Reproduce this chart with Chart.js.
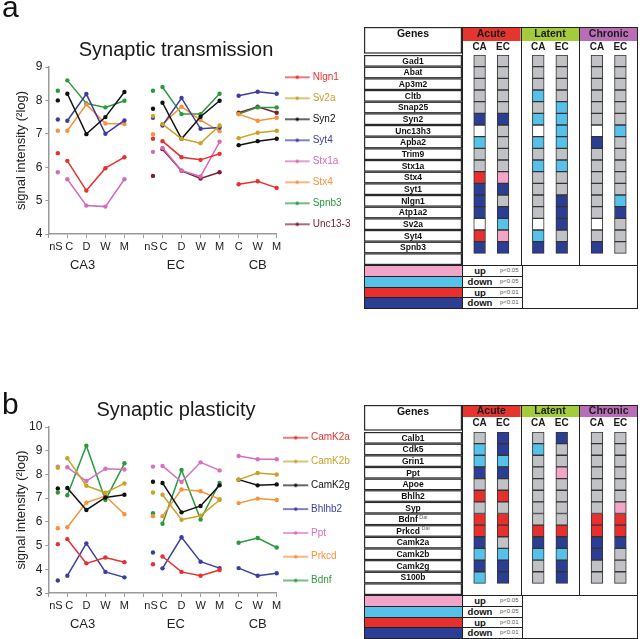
<!DOCTYPE html>
<html>
<head>
<meta charset="utf-8">
<script src="https://cdn.jsdelivr.net/npm/chart.js@4.4.1/dist/chart.umd.min.js"></script>
<style>
  body { margin: 0; background: #fff; width: 640px; height: 639px; position: relative; overflow: hidden; font-family: "Liberation Sans", Arial, sans-serif; }
  .box { position: absolute; }
  .panel { position: absolute; font-size: 30px; line-height: 30px; color: #111; z-index: 2; }
  .key { position: absolute; left: 364px; width: 274px; border-collapse: collapse; table-layout: fixed; }
  .key tr { height: 10.75px; }
  .key td { border: 1px solid #222; padding: 0; height: 10.75px; font-size: 0; line-height: 0; white-space: nowrap; overflow: hidden; box-sizing: border-box; }
  .key td.sw { width: 98px; }
  .key td.lab { width: 60px; }
  .key .w { display: inline-block; vertical-align: top; width: 34px; text-align: center; font: bold 9.5px/9.5px "Liberation Sans", Arial, sans-serif; color: #111; }
  .key .p { display: inline-block; vertical-align: top; padding-left: 3px; font: 6px/9.5px "Liberation Sans", Arial, sans-serif; color: #555; }
</style>
</head>
<body>
<div class="panel" style="left:2px;top:-8px">a</div>
<div class="box" style="left:0;top:0;width:352px;height:274px"><canvas id="lineA"></canvas></div>
<div class="box" style="left:364px;top:27px;width:274px;height:238px"><canvas id="tableA"></canvas></div>
<table class="key" id="keyA" style="top:265px"></table>

<div class="panel" style="left:2px;top:389px">b</div>
<div class="box" style="left:0;top:380px;width:352px;height:253px"><canvas id="lineB"></canvas></div>
<div class="box" style="left:364px;top:405px;width:274px;height:190px"><canvas id="tableB"></canvas></div>
<table class="key" id="keyB" style="top:595px"></table>

<script>
var family = '"Liberation Sans", Arial, sans-serif';
Chart.defaults.font.family = family;
Chart.defaults.color = '#222';

// x layout shared by both line charts: nS dot, then C D W M per region
var pointX = [0.5, 1, 2, 3, 4, 5.5, 6, 7, 8, 9, 10, 11, 12];
var pointGroup = ['nS', 'CA3', 'CA3', 'CA3', 'CA3', 'nS', 'EC', 'EC', 'EC', 'EC', 'CB', 'CB', 'CB'];
var xTickAt   = [0, 0.4, 1, 1.1, 2, 3, 4, 5, 5.4, 6, 6.05, 7, 8, 9, 10, 11, 12];
var xTickText = ['', 'nS', '', 'C', 'D', 'W', 'M', '', 'nS', '', 'C', 'D', 'W', 'M', 'C', 'W', 'M'];
var regionNames = ['CA3', 'EC', 'CB'];
var regionAt = [1.8, 6.7, 11];

// a - synaptic transmission
var transGenes = ['Nlgn1', 'Sv2a', 'Syn2', 'Syt4', 'Stx1a', 'Stx4', 'Spnb3', 'Unc13-3'];
var transColors = ['#e8302f', '#c9a227', '#111111', '#3b3f9c', '#d46ab8', '#f7923a', '#2b9a3f', '#7b2032'];
var nlgn1  = [6.42, 6.19, 5.30, 5.97, 6.30, 6.85, 6.78, 6.30, 6.22, 6.40, 5.49, 5.58, 5.38];
var sv2a   = [null, null, null, null, null, 7.53, 7.29, 6.85, 6.72, 7.25, 6.87, 7.03, 7.09];
var syn2   = [8.00, 8.20, 6.99, 7.50, 8.25, 7.75, 7.93, 6.85, 7.51, 7.99, 6.66, 6.78, 6.85];
var syt4   = [7.43, 7.39, 8.19, 7.00, 7.40, 7.48, 7.25, 8.07, 7.15, 7.19, 8.14, 8.26, 8.20];
var stx1a  = [5.85, 5.64, 4.85, 4.82, 5.64, 6.46, 6.58, 5.90, 5.72, 6.76, null, null, null];
var stx4   = [7.09, 7.09, 7.88, 7.31, 7.29, 6.99, 7.29, 7.81, 7.41, 7.08, 7.59, 7.39, 7.48];
var spnb3  = [8.29, 8.60, 7.91, 7.79, 7.99, 8.29, 8.40, 7.59, 7.59, 8.20, 7.59, 7.79, 7.79];
var unc133 = [null, null, null, null, null, 5.74, 6.54, 5.89, 5.66, 5.85, 7.63, 7.81, 7.63];

// b - synaptic plasticity
var plastGenes = ['CamK2a', 'CamK2b', 'CamK2g', 'Bhlhb2', 'Ppt', 'Prkcd', 'Bdnf'];
var plastColors = ['#e8302f', '#c9a227', '#111111', '#3b3f9c', '#d96fc0', '#f7923a', '#2b9a3f'];
var camk2a = [5.06, 5.27, 4.25, 4.50, 4.30, 4.21, 4.54, 3.89, 3.73, 3.97, null, null, null];
var camk2b = [8.28, 8.68, 7.52, 7.23, 7.62, 7.24, 7.14, 6.09, 6.26, 6.92, 7.78, 8.06, 8.00];
var camk2g = [7.41, 7.43, 6.50, 7.03, 7.14, 7.69, 7.64, 6.40, 6.67, 7.54, 7.78, 7.54, 7.58];
var bhlhb2 = [3.53, 3.73, 5.09, 3.89, 3.66, 4.71, 4.04, 5.35, 4.32, 4.05, 4.05, 3.73, 3.83];
var ppt    = [8.33, 8.30, 7.72, 8.24, 8.21, 8.33, 8.36, 7.68, 8.51, 8.17, 8.78, 8.64, 8.64];
var prkcd  = [5.73, 5.77, 6.81, 7.09, 6.32, 6.24, 6.24, 7.37, 7.29, 6.96, 6.79, 6.98, 6.92];
var bdnf   = [7.24, 7.12, 9.21, 6.92, 8.47, 6.36, 5.92, 8.19, 6.10, 7.64, 5.12, 5.32, 4.92];

// tables: g grey, w white, l down p<0.05, d down p<0.01, p up p<0.05, r up p<0.01
var stageNames = ['Acute', 'Latent', 'Chronic'];
var stageColors = ['#e5352f', '#a2cc3a', '#b96db6'];
var subNames = ['CA', 'EC'];
var tableGenesA = ['Gad1', 'Abat', 'Ap3m2', 'Cltb', 'Snap25', 'Syn2', 'Unc13h3', 'Apba2', 'Trim9',
                   'Stx1a', 'Stx4', 'Syt1', 'Nlgn1', 'Atp1a2', 'Sv2a', 'Syt4', 'Spnb3'];
var tableCellsA = ['gggggg', 'gggggg', 'gggggg', 'gglggg', 'ggglgg', 'ddllgg', 'wgwlwl', 'lglldg', 'gggggg',
                   'ggllgg', 'rpgggg', 'ddgggg', 'dggdgl', 'ddgdgd', 'wlwdwg', 'rplggg', 'dddddg'];
var tableGenesB = ['Calb1', 'Cdk5', 'Grin1', 'Ppt', 'Apoe', 'Bhlh2', 'Syp', 'Bdnf', 'Prkcd',
                   'Camk2a', 'Camk2b', 'Camk2g', 'S100b'];
var tableCellsB = ['gdgdgg', 'ldlggg', 'llgggg', 'ddgpgg', 'gggggg', 'rrgggg', 'gggggp', 'rrggrr', 'rrrrrr',
                   'dgdddd', 'lllldg', 'ddgdgg', 'ldgdgg'];
var geneNotes = { Bdnf: 'Dai', Prkcd: 'Dai' };

var keyColors = ['#f2a5c6', '#56c2ea', '#e7302e', '#2c3e93'];
var keyWords = ['up', 'down', 'up', 'down'];
var keyP = ['p<0.05', 'p<0.05', 'p<0.01', 'p<0.01'];

var cellColor = { g: '#c1c2c6', w: '#ffffff', l: '#56c2ea', d: '#2c3e93', p: '#f2a5c6', r: '#e7302e' };
var subX = [0.30, 0.70];
var cellHalf = 0.1;

function joined(a, b) {
    return pointGroup[a] === pointGroup[b] && pointGroup[a] !== 'nS';
}

// small line with a dot for the legend
function legendMark(color, w) {
    var c = document.createElement('canvas');
    c.width = w; c.height = 6;
    var g = c.getContext('2d');
    g.strokeStyle = color; g.lineWidth = 1.3;
    g.beginPath(); g.moveTo(0, 3); g.lineTo(25, 3); g.stroke();
    g.fillStyle = color;
    g.beginPath(); g.arc(12.5, 3, 1.8, 0, 2 * Math.PI); g.fill();
    return c;
}

function lineChart(id, title, genes, colors, series, yMin, yMax, lay) {
    return new Chart(id, {
        type: 'line',
        data: {
            datasets: genes.map(function(name, i) {
                return {
                    label: name,
                    data: series[i].map(function(v, k) { return { x: pointX[k], y: v }; }),
                    borderColor: colors[i],
                    backgroundColor: colors[i],
                    borderWidth: 1.5,
                    pointRadius: 2.2,
                    pointBorderWidth: 0,
                    tension: 0,
                    clip: false,
                    segment: {
                        borderColor: function(s) { return joined(s.p0DataIndex, s.p1DataIndex) ? colors[i] : 'transparent'; }
                    }
                };
            })
        },
        options: {
            responsive: true,
            maintainAspectRatio: false,
            animation: false,
            events: [],
            plugins: {
                title: {
                    display: true, text: title, color: '#1a1a1a',
                    font: { size: 20, weight: 'normal' },
                    padding: { top: lay.titleTop, bottom: 5 }
                },
                tooltip: { enabled: false },
                legend: {
                    position: 'right',
                    align: 'start',
                    maxWidth: 75.3,
                    title: { display: true, text: '', font: { size: 1 }, padding: { top: lay.legendTop, bottom: 0 } },
                    labels: {
                        usePointStyle: true,
                        pointStyleWidth: lay.markW,
                        padding: lay.legendGap,
                        font: { size: lay.legendFont },
                        generateLabels: function(chart) {
                            return chart.data.datasets.map(function(d, i) {
                                return {
                                    text: d.label, fontColor: d.borderColor,
                                    pointStyle: legendMark(d.borderColor, lay.markImg),
                                    fillStyle: d.borderColor, strokeStyle: d.borderColor,
                                    lineWidth: 0, hidden: false, datasetIndex: i
                                };
                            });
                        }
                    }
                }
            },
            scales: {
                x: {
                    type: 'linear', min: 0, max: 12,
                    afterBuildTicks: function(s) { s.ticks = xTickAt.map(function(v) { return { value: v }; }); },
                    afterFit: function(s) { s.height = 18; },
                    ticks: {
                        autoSkip: false, maxRotation: 0, padding: 2, color: '#222', font: { size: 11 },
                        callback: function(v, i) { return xTickText[i]; }
                    },
                    grid: {
                        drawOnChartArea: false, tickLength: 4, color: '#9a9a9a',
                        tickColor: function(c) { return c.tick && c.tick.value % 1 ? 'transparent' : '#9a9a9a'; }
                    },
                    border: { color: '#9a9a9a', width: 1.5 }
                },
                region: {
                    axis: 'x', type: 'linear', min: 0, max: 12, position: 'bottom', weight: 1,
                    afterBuildTicks: function(s) { s.ticks = regionAt.map(function(v) { return { value: v }; }); },
                    afterFit: function(s) { s.height = 22; },
                    ticks: {
                        autoSkip: false, maxRotation: 0, padding: 6, color: '#222', font: { size: 13 },
                        callback: function(v, i) { return regionNames[i]; }
                    },
                    grid: { display: false, drawTicks: false },
                    border: { display: false }
                },
                y: {
                    min: yMin, max: yMax,
                    afterFit: function(s) { s.width = 48.3; },
                    ticks: { stepSize: 1, padding: 3, color: '#222', font: { size: 12 } },
                    grid: { drawOnChartArea: false, tickLength: 3, color: '#9a9a9a' },
                    border: { color: '#9a9a9a', width: 1.5 },
                    title: {
                        display: true, text: 'signal intensity (\u00B2log)', color: '#222',
                        font: { size: 13 }, padding: { top: 14, bottom: 0 }
                    }
                }
            }
        }
    });
}

// headers, dividers and gene label boxes around the cell grid
var tableFrame = {
    id: 'tableFrame',
    afterDraw: function(chart, args, o) {
        var ctx = chart.ctx, a = chart.chartArea, x = chart.scales.x, y = chart.scales.y;
        var pitch = y.getPixelForValue(1) - y.getPixelForValue(0);
        function line(x1, y1, x2, y2) { ctx.beginPath(); ctx.moveTo(x1, y1); ctx.lineTo(x2, y2); ctx.stroke(); }
        ctx.save();
        ctx.textAlign = 'center';
        ctx.textBaseline = 'middle';
        stageNames.forEach(function(name, g) {
            var l = x.getPixelForValue(g), r = x.getPixelForValue(g + 1);
            ctx.fillStyle = stageColors[g];
            ctx.fillRect(l, 0, r - l, o.headH);
            ctx.fillStyle = '#1b1b1b';
            ctx.font = 'bold 10.5px ' + family;
            ctx.fillText(name, (l + r) / 2, o.headH / 2 + 0.5);
            ctx.font = 'bold 10px ' + family;
            subNames.forEach(function(s, k) {
                ctx.fillText(s, x.getPixelForValue(g + subX[k]), o.headH + 6.5);
            });
        });
        ctx.strokeStyle = '#222';
        ctx.lineWidth = 1;
        for (var g = 0; g <= 3; g++) {
            var px = Math.min(Math.round(x.getPixelForValue(g)) + 0.5, a.right - 0.5);
            line(px, 0, px, a.bottom);
        }
        line(0, 0.5, a.right, 0.5);
        ctx.lineWidth = 1.2;
        ctx.strokeStyle = '#2a2a2a';
        ctx.strokeRect(0.6, 0.6, a.left - 1.2, a.top - 2.6);
        ctx.fillStyle = '#111';
        ctx.font = 'bold 10.5px ' + family;
        ctx.fillText('Genes', a.left / 2, 7.5);
        chart.data.labels.forEach(function(lab, i) {
            var cy = y.getPixelForValue(i);
            ctx.strokeRect(0.6, cy - pitch / 2 + 0.6, a.left - 1.2, pitch - 1.2);
            if (!lab) return;
            var note = geneNotes[lab];
            ctx.font = 'bold 8.5px ' + family;
            var w1 = ctx.measureText(lab).width;
            var w2 = 0;
            if (note) {
                ctx.font = '5.5px ' + family;
                w2 = ctx.measureText(note).width + 1.5;
            }
            var start = a.left / 2 - (w1 + w2) / 2;
            ctx.textAlign = 'left';
            ctx.fillStyle = '#111';
            ctx.font = 'bold 8.5px ' + family;
            ctx.fillText(lab, start, cy + 0.5);
            if (note) {
                ctx.font = '5.5px ' + family;
                ctx.fillStyle = '#666';
                ctx.fillText(note, start + w1 + 1.5, cy - 2);
            }
            ctx.textAlign = 'center';
        });
        ctx.restore();
    }
};

function geneTable(id, genes, cells, headH, bodyTop) {
    var columns = [];
    stageNames.forEach(function(st) { subNames.forEach(function(sb) { columns.push(st + ' ' + sb); }); });
    return new Chart(id, {
        type: 'bar',
        data: {
            labels: genes.concat(['']),
            datasets: columns.map(function(name, c) {
                var at = Math.floor(c / 2) + subX[c % 2];
                return {
                    label: name,
                    data: cells.map(function() { return [at - cellHalf, at + cellHalf]; }),
                    backgroundColor: cells.map(function(row) { return cellColor[row[c]]; }),
                    borderColor: '#333',
                    borderWidth: 1,
                    borderSkipped: false,
                    barPercentage: 1,
                    categoryPercentage: 1,
                    grouped: false
                };
            })
        },
        options: {
            indexAxis: 'y',
            responsive: true,
            maintainAspectRatio: false,
            animation: false,
            events: [],
            layout: { padding: { top: bodyTop } },
            plugins: { legend: { display: false }, tooltip: { enabled: false }, tableFrame: { headH: headH } },
            scales: {
                x: { type: 'linear', min: 0, max: 3, display: false },
                y: {
                    type: 'category', offset: true,
                    grid: { display: false }, border: { display: false }, ticks: { display: false },
                    afterFit: function(s) { s.width = 98; }
                }
            }
        },
        plugins: [tableFrame]
    });
}

function buildKey(id) {
    var t = document.getElementById(id);
    keyColors.forEach(function(c, i) {
        var tr = t.insertRow();
        var sw = tr.insertCell();
        sw.className = 'sw';
        sw.style.background = c;
        var lab = tr.insertCell();
        lab.className = 'lab';
        var w = document.createElement('span');
        w.className = 'w';
        w.textContent = keyWords[i];
        var p = document.createElement('span');
        p.className = 'p';
        p.textContent = keyP[i];
        lab.appendChild(w);
        lab.appendChild(p);
        if (i === 0) {
            var rest = tr.insertCell();
            rest.rowSpan = 4;
        }
    });
}

lineChart('lineA', 'Synaptic transmission', transGenes, transColors,
    [nlgn1, sv2a, syn2, syt4, stx1a, stx4, spnb3, unc133], 4, 9,
    { titleTop: 38, legendTop: 60.1, legendGap: 11, legendFont: 10, markW: 20, markImg: 26 });

lineChart('lineB', 'Synaptic plasticity', plastGenes, plastColors,
    [camk2a, camk2b, camk2g, bhlhb2, ppt, prkcd, bdnf], 3, 10,
    { titleTop: 18, legendTop: 37.7, legendGap: 13.8, legendFont: 10, markW: 15.5, markImg: 30 });

geneTable('tableA', tableGenesA, tableCellsA, 14, 28);
geneTable('tableB', tableGenesB, tableCellsB, 12, 27);
buildKey('keyA');
buildKey('keyB');
</script>
</body>
</html>
